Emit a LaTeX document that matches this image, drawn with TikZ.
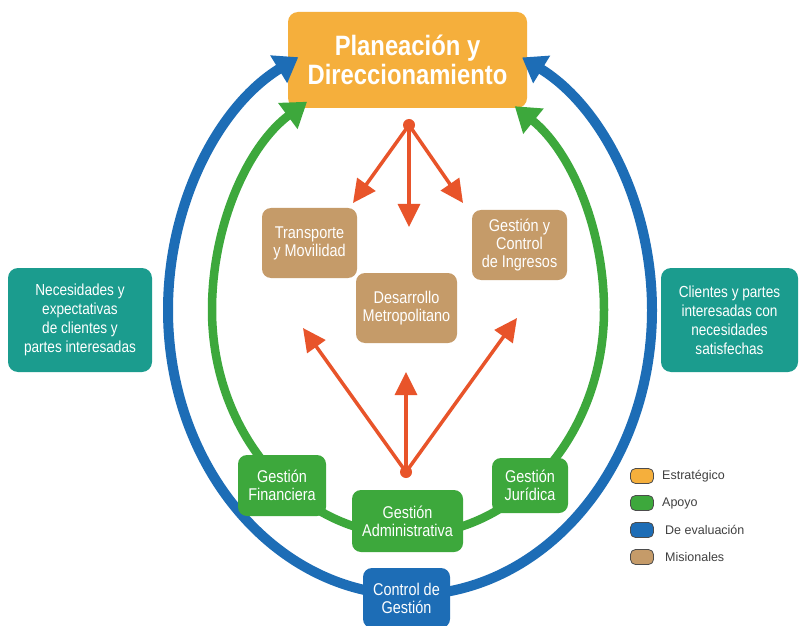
\documentclass[tikz,border=0pt]{standalone}
\usepackage{fontspec}
\setmainfont{Liberation Sans}[FakeStretch=0.85]
\newfontfamily\legendfont{Liberation Sans}
\usetikzlibrary{arrows.meta}
\definecolor{cOrange}{HTML}{F5AF3C}
\definecolor{cTan}{HTML}{C59B69}
\definecolor{cGreen}{HTML}{3DA83C}
\definecolor{cBlue}{HTML}{1D6DB6}
\definecolor{cTeal}{HTML}{1B9C8E}
\definecolor{cRed}{HTML}{E8542A}
\begin{document}
\begin{tikzpicture}[x=1pt,y=1pt,
  box/.style={rounded corners=9pt, text=white, align=center, inner sep=0pt, font=\fontsize{17}{18}\selectfont},
  bluearc/.style={draw=cBlue, line width=10pt, -{Triangle[length=23pt,width=31pt]}},
  greenarc/.style={draw=cGreen, line width=8.5pt, -{Triangle[length=24pt,width=31pt]}},
  redarrow/.style={draw=cRed, line width=3.5pt, -{Triangle[length=23pt,width=22pt]}},
  reddot/.style={circle, fill=cRed, minimum size=12pt, inner sep=0pt},
  swatch/.style={draw=black!70, line width=0.8pt, rounded corners=5pt, minimum width=23pt, minimum height=15pt, inner sep=0pt},
  legtext/.style={anchor=west, inner sep=0pt, text=black!75, font=\legendfont\fontsize{12.5}{14}\selectfont}
]
\useasboundingbox (0,0) rectangle (800,625);
\fill[white] (0,0) rectangle (800,625);

% top box first (arrow heads lie over it)
\node[box, fill=cOrange, minimum width=239pt, minimum height=96pt, rounded corners=10pt,
  font=\fontsize{28}{29}\selectfont\bfseries] (plan) at (407.5,565) {Planeación y\\Direccionamiento};

% arcs
\coordinate (bb) at (410,30);
\coordinate (gb) at (408,90);
\draw[bluearc] (bb) arc[start angle=270,end angle=117.5,x radius=242pt,y radius=285pt];
\draw[bluearc] (bb) arc[start angle=-90,end angle=62.4,x radius=242pt,y radius=285pt];
\draw[greenarc] (gb) arc[start angle=270,end angle=180,x radius=196pt,y radius=225pt]
  arc[start angle=180,end angle=121,x radius=196pt,y radius=243pt];
\draw[greenarc] (gb) arc[start angle=-90,end angle=0,x radius=196pt,y radius=225pt]
  arc[start angle=0,end angle=57,x radius=196pt,y radius=243pt];

% boxes
\node[box, fill=cTan, minimum width=95pt, minimum height=70pt] (trans) at (309.5,382) {Transporte\\y Movilidad};
\node[box, fill=cTan, minimum width=95pt, minimum height=70pt] (ingr) at (519.5,380) {Gestión y\\Control\\de Ingresos};
\node[box, fill=cTan, minimum width=101pt, minimum height=70pt] (desa) at (406.5,317) {Desarrollo\\Metropolitano};

\node[box, fill=cGreen, minimum width=88pt, minimum height=61pt] (fin) at (282,139.5) {Gestión\\Financiera};
\node[box, fill=cGreen, minimum width=111pt, minimum height=62pt] (adm) at (407.5,104) {Gestión\\Administrativa};
\node[box, fill=cGreen, minimum width=76pt, minimum height=55pt] (jur) at (530,139.5) {Gestión\\Jurídica};

\node[box, fill=cBlue, minimum width=87pt, minimum height=60pt] (ctrl) at (406.5,27) {Control de\\Gestión};

\node[box, fill=cTeal, minimum width=144pt, minimum height=104pt, rounded corners=10pt,
  font=\fontsize{16}{19}\selectfont] (left) at (80,305) {Necesidades y\\expectativas\\de clientes y\\partes interesadas};
\node[box, fill=cTeal, minimum width=137pt, minimum height=104pt, rounded corners=10pt,
  font=\fontsize{16}{19}\selectfont] (right) at (729.5,305) {Clientes y partes\\interesadas con\\necesidades\\satisfechas};

% orange arrows
\node[reddot] (topdot) at (409,500) {};
\coordinate (t1) at (353,422);
\coordinate (t2) at (409,398);
\coordinate (t3) at (463,422);
\draw[redarrow] (topdot.center) -- (t1);
\draw[redarrow] (topdot.center) -- (t2);
\draw[redarrow] (topdot.center) -- (t3);

\node[reddot] (botdot) at (406,153) {};
\coordinate (b1) at (303,297);
\coordinate (b2) at (406,253);
\coordinate (b3) at (517,307);
\draw[redarrow] (botdot.center) -- (b1);
\draw[redarrow] (botdot.center) -- (b2);
\draw[redarrow] (botdot.center) -- (b3);

% legend
\node[swatch, fill=cOrange] (s1) at (642,149) {};
\node[swatch, fill=cGreen] (s2) at (642,122) {};
\node[swatch, fill=cBlue] (s3) at (642,95) {};
\node[swatch, fill=cTan] (s4) at (642,68) {};
\node[legtext] (l1) at (662,149) {Estratégico};
\node[legtext] (l2) at (662,122) {Apoyo};
\node[legtext] (l3) at (665,95) {De evaluación};
\node[legtext] (l4) at (665,68) {Misionales};
\end{tikzpicture}
\end{document}
